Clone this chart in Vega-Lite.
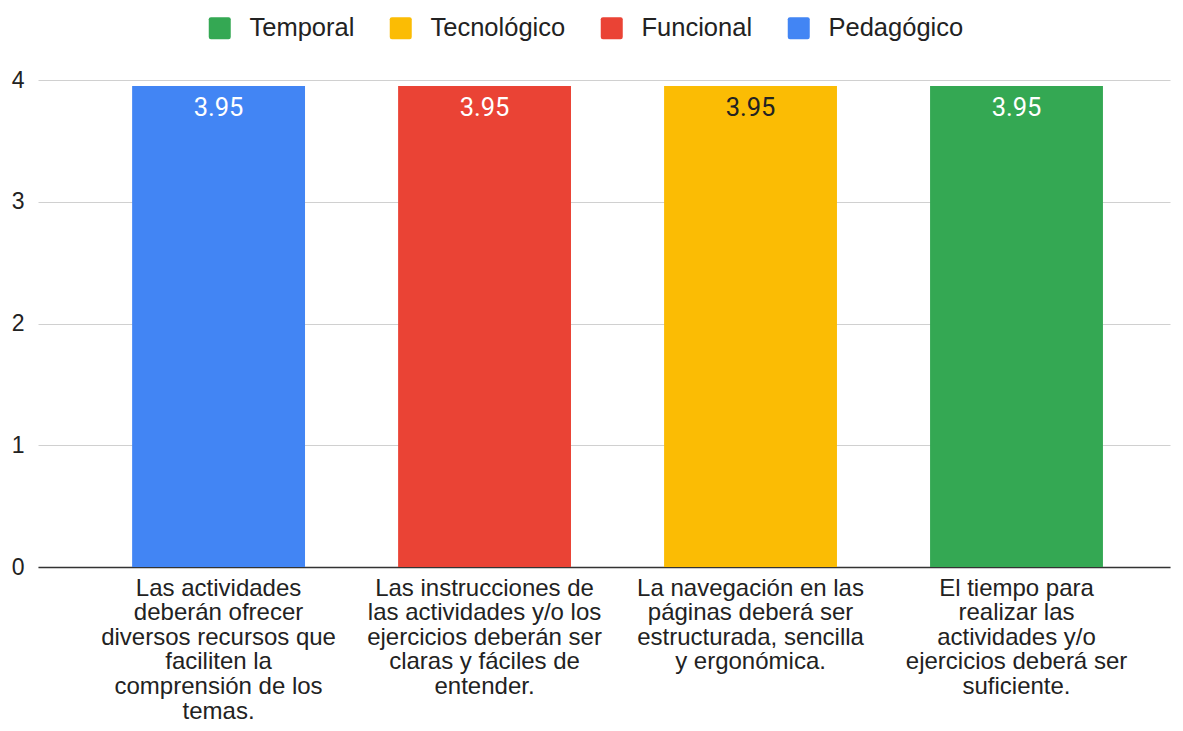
{
  "$schema": "https://vega.github.io/schema/vega-lite/v6.json",
  "width": 1132,
  "height": 487,
  "autosize": {"type": "none"},
  "padding": {"left": 38, "top": 80, "right": 13, "bottom": 164},
  "background": "white",
  "config": {"view": {"stroke": null}},
  "data": {
    "values": [
      {"criterio": "Las actividades|deberán ofrecer|diversos recursos que|faciliten la|comprensión de los|temas.", "grupo": "Pedagógico", "valor": 3.95},
      {"criterio": "Las instrucciones de|las actividades y/o los|ejercicios deberán ser|claras y fáciles de|entender.", "grupo": "Funcional", "valor": 3.95},
      {"criterio": "La navegación en las|páginas deberá ser|estructurada, sencilla|y ergonómica.", "grupo": "Tecnológico", "valor": 3.95},
      {"criterio": "El tiempo para|realizar las|actividades y/o|ejercicios deberá ser|suficiente.", "grupo": "Temporal", "valor": 3.95}
    ]
  },
  "encoding": {
    "x": {
      "field": "criterio",
      "type": "nominal",
      "sort": null,
      "scale": {"paddingInner": 0.35, "paddingOuter": 0.303, "align": 0.584},
      "axis": {
        "title": null,
        "labelAngle": 0,
        "labelExpr": "split(datum.label, '|')",
        "labelFont": "Liberation Sans",
        "labelFontSize": 24,
        "labelColor": "#222222",
        "labelLineHeight": 24.6,
        "labelPadding": 9,
        "labelLimit": 340,
        "ticks": false,
        "domainColor": "#333333",
        "domainWidth": 1.5
      }
    },
    "y": {
      "field": "valor",
      "type": "quantitative",
      "scale": {"domain": [0, 4], "nice": false},
      "axis": {
        "title": null,
        "values": [0, 1, 2, 3, 4],
        "format": "d",
        "labelFont": "Liberation Sans",
        "labelFontSize": 23,
        "labelColor": "#222222",
        "labelPadding": 14,
        "ticks": false,
        "domain": false,
        "gridColor": "#d0d0d0",
        "gridWidth": 1
      }
    }
  },
  "layer": [
    {
      "mark": {"type": "bar"},
      "encoding": {
        "color": {
          "field": "grupo",
          "type": "nominal",
          "scale": {
            "domain": ["Temporal", "Tecnológico", "Funcional", "Pedagógico"],
            "range": ["#34A853", "#FBBC04", "#EA4335", "#4285F4"]
          },
          "legend": {
            "title": null,
            "orient": "none",
            "legendX": 169,
            "legendY": -65,
            "direction": "horizontal",
            "symbolType": "M-0.8,-1 L0.8,-1 Q1,-1 1,-0.8 L1,0.8 Q1,1 0.8,1 L-0.8,1 Q-1,1 -1,0.8 L-1,-0.8 Q-1,-1 -0.8,-1 Z",
            "symbolSize": 484,
            "symbolStrokeWidth": 0,
            "symbolOpacity": 1,
            "labelFont": "Liberation Sans",
            "labelFontSize": 25.5,
            "labelColor": "#222222",
            "labelOffset": 17,
            "columnPadding": 33
          }
        }
      }
    },
    {
      "mark": {"type": "text", "baseline": "top", "dy": 10, "font": "Roboto", "fontSize": 25.5},
      "encoding": {
        "text": {"field": "valor", "type": "quantitative", "format": ".2f"},
        "color": {
          "condition": {"test": "datum.grupo === 'Tecnológico'", "value": "#222222"},
          "value": "#ffffff"
        }
      }
    }
  ]
}
